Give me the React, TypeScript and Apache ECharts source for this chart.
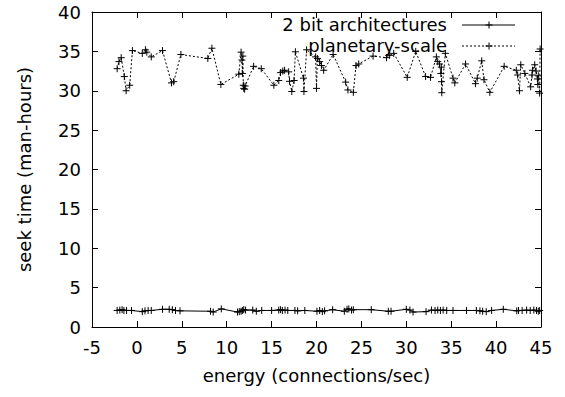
import React, { useEffect, useRef } from "react";
import * as echarts from "echarts";

const seriesNames = ["2 bit architectures", "planetary-scale"];
const xTicks = { min: -5, max: 45, interval: 5 };
const yTicks = { min: 0, max: 40, interval: 5 };

const bitArchX = [-2.2, -1.9, -1.65, -1.45, -1.15, -0.6, 0.6, 0.9, 1.25, 1.6, 2.85, 3.6, 3.95, 4.3, 4.8, 8.2, 8.5, 9.4, 11.2, 11.4, 11.6, 11.75, 11.9, 12.1, 12.9, 13.3, 13.9, 15.0, 15.8, 16.0, 16.2, 16.5, 16.8, 17.6, 17.9, 18.7, 20.05, 20.35, 20.65, 20.9, 21.8, 23.1, 23.4, 23.6, 23.9, 24.1, 26.1, 28.0, 28.3, 30.0, 30.4, 30.75, 32.2, 32.8, 33.2, 33.5, 33.8, 34.1, 34.5, 35.2, 36.7, 37.8, 38.2, 38.5, 38.9, 39.5, 40.8, 42.3, 42.5, 42.9, 43.4, 43.8, 44.2, 44.5, 44.7, 44.85];
const bitArchY = [2.1, 2.15, 2.2, 2.1, 2.1, 2.1, 1.95, 2.05, 2.1, 2.1, 2.25, 2.25, 2.2, 2.1, 2.05, 2.0, 1.9, 2.3, 1.9, 1.95, 2.0, 2.1, 2.2, 2.15, 2.15, 2.0, 2.1, 2.1, 2.15, 2.2, 2.1, 2.15, 2.1, 2.1, 2.05, 2.1, 2.0, 2.1, 1.95, 2.05, 2.2, 2.0, 2.25, 2.3, 2.15, 2.2, 2.2, 2.0, 2.0, 2.25, 2.15, 1.9, 1.95, 2.15, 2.1, 2.15, 2.1, 2.15, 2.1, 2.1, 2.1, 2.1, 2.05, 2.0, 1.95, 2.1, 2.25, 2.05, 2.1, 2.1, 2.15, 2.1, 2.15, 2.1, 2.0, 2.1];

const planetX = [-2.2, -2.0, -1.75, -1.4, -1.2, -0.8, -0.5, 0.6, 0.95, 1.1, 1.6, 2.85, 3.85, 4.1, 4.9, 7.9, 8.35, 9.35, 11.35, 11.6, 11.7, 11.75, 11.8, 11.85, 11.9, 12.0, 12.05, 13.0, 13.85, 15.25, 15.8, 16.0, 16.25, 16.45, 16.9, 17.0, 17.25, 17.5, 17.65, 18.55, 18.6, 18.9, 19.9, 20.0, 20.1, 20.35, 20.55, 20.8, 21.85, 23.25, 23.5, 24.1, 24.4, 24.7, 26.3, 27.8, 28.15, 28.6, 30.1, 31.05, 32.15, 32.7, 33.35, 33.5, 33.7, 33.85, 33.9, 33.92, 33.95, 34.35, 35.2, 35.4, 36.6, 37.7, 37.9, 38.4, 38.65, 39.3, 40.9, 42.25, 42.4, 42.6, 42.75, 43.2, 43.85, 44.0, 44.05, 44.3, 44.45, 44.6, 44.65, 44.7, 44.85, 44.9];
const planetY = [32.8, 33.7, 34.2, 31.8, 30.0, 30.7, 35.1, 34.75, 35.2, 34.9, 34.3, 35.1, 31.0, 31.15, 34.6, 34.1, 35.4, 30.8, 32.1, 34.9, 33.9, 32.2, 34.4, 30.7, 30.3, 30.2, 30.6, 33.1, 32.8, 30.7, 31.3, 32.3, 32.5, 32.6, 32.4, 31.2, 29.9, 31.3, 34.95, 31.6, 29.9, 35.2, 34.3, 30.3, 34.1, 33.7, 33.2, 32.6, 34.6, 31.1, 30.1, 29.8, 33.2, 33.4, 34.4, 34.2, 34.5, 34.75, 31.7, 35.0, 31.8, 31.7, 34.3, 33.7, 33.4, 32.2, 33.0, 31.15, 29.75, 34.75, 31.6, 31.0, 33.4, 30.9, 31.6, 33.8, 31.4, 29.8, 33.1, 32.6, 32.0, 30.0, 33.3, 32.2, 30.5, 32.0, 32.6, 33.3, 32.5, 31.5, 30.8, 31.9, 29.7, 35.3];

const FONT = "'DejaVu Sans', 'Liberation Sans', Arial, sans-serif";
const FS = 18;
const PLUS = "path://M0,5L10,5M5,0L5,10";

function pairs(xs: number[], ys: number[]) {
  return xs.map((x, i) => [x, ys[i]]);
}

export default function App() {
  const ref = useRef<HTMLDivElement>(null);
  useEffect(() => {
    if (!ref.current) return;
    const chart = echarts.init(ref.current, undefined, { renderer: "svg" });
    const axisCommon = {
      type: "value" as const,
      axisLine: { show: true, onZero: false, lineStyle: { color: "#000", width: 1 } },
      axisTick: { show: true, inside: true, length: 6, lineStyle: { color: "#000" } },
      splitLine: { show: false },
    };
    const legendLine = (y: number, dashed: boolean) => [
      {
        type: "line",
        shape: { x1: 462, y1: y, x2: 515, y2: y },
        style: { stroke: "#000", lineWidth: 1, lineDash: dashed ? [2, 2] : null },
      },
      { type: "line", shape: { x1: 485.5, y1: y, x2: 492.5, y2: y }, style: { stroke: "#000", lineWidth: 1 } },
      { type: "line", shape: { x1: 489, y1: y - 3.5, x2: 489, y2: y + 3.5 }, style: { stroke: "#000", lineWidth: 1 } },
    ];
    chart.setOption({
      animation: false,
      backgroundColor: "#fff",
      textStyle: { fontFamily: FONT },
      grid: { left: 92, right: 24, top: 12, bottom: 70 },
      xAxis: [
        {
          ...axisCommon,
          position: "bottom",
          ...xTicks,
          name: "energy (connections/sec)",
          nameLocation: "middle",
          nameGap: 39,
          nameTextStyle: { fontSize: FS, color: "#000", fontFamily: FONT },
          axisLabel: { fontSize: FS, color: "#000", margin: 11, fontFamily: FONT },
        },
        {
          ...axisCommon,
          position: "top",
          ...xTicks,
          axisLabel: { show: false },
        },
      ],
      yAxis: [
        {
          ...axisCommon,
          position: "left",
          ...yTicks,
          name: "seek time (man-hours)",
          nameLocation: "middle",
          nameGap: 59,
          nameRotate: 90,
          nameTextStyle: { fontSize: FS, color: "#000", fontFamily: FONT },
          axisLabel: { fontSize: FS, color: "#000", margin: 11, fontFamily: FONT },
        },
        {
          ...axisCommon,
          position: "right",
          ...yTicks,
          axisLabel: { show: false },
        },
      ],
      series: [
        {
          name: seriesNames[0],
          type: "line",
          data: pairs(bitArchX, bitArchY),
          symbol: PLUS,
          symbolSize: 7,
          itemStyle: { color: "#000", borderColor: "#000", borderWidth: 1 },
          lineStyle: { color: "#000", width: 1 },
        },
        {
          name: seriesNames[1],
          type: "line",
          data: pairs(planetX, planetY),
          symbol: PLUS,
          symbolSize: 7,
          itemStyle: { color: "#000", borderColor: "#000", borderWidth: 1 },
          lineStyle: { color: "#000", width: 1, type: [2, 2] },
        },
      ],
      graphic: [
        {
          type: "text",
          x: 447,
          y: 24,
          style: { text: seriesNames[0], font: `${FS}px ${FONT}`, fill: "#000", align: "right", verticalAlign: "middle" },
        },
        {
          type: "text",
          x: 447,
          y: 45,
          style: { text: seriesNames[1], font: `${FS}px ${FONT}`, fill: "#000", align: "right", verticalAlign: "middle" },
        },
        ...legendLine(25, false),
        ...legendLine(46, true),
      ],
    });
    return () => chart.dispose();
  }, []);
  return (
    <div
      ref={ref}
      style={{ position: "fixed", left: 0, top: 0, width: 565, height: 397 }}
    />
  );
}
